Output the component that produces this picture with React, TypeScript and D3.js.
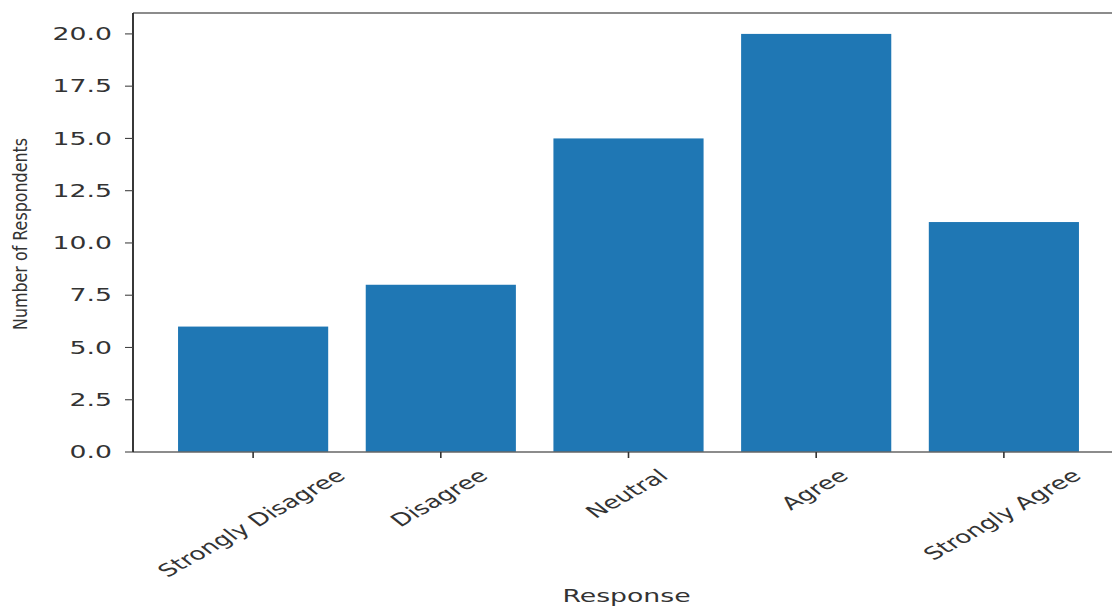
import React, { useEffect, useRef } from "react";
import * as d3 from "d3";

// Survey responses
const responses: string[] = ["Strongly Disagree", "Disagree", "Neutral", "Agree", "Strongly Agree"];
const respondentCounts: number[] = [6, 8, 15, 20, 11];
const yTickValues: number[] = [0, 2.5, 5, 7.5, 10, 12.5, 15, 17.5, 20];

const W = 1112;
const H = 607;
const FONT = "'DejaVu Sans', sans-serif";
const SX = 1.5; // horizontal stretch applied to text glyphs

export default function App() {
  const ref = useRef<SVGSVGElement | null>(null);

  useEffect(() => {
    const svg = d3.select(ref.current);
    svg.selectAll("*").remove();

    const left = 133, right = 1124, top = 13, bottom = 452;

    const x = d3
      .scaleBand<string>()
      .domain(responses)
      .range([left, right])
      .paddingInner(0.2)
      .paddingOuter(0.24);

    const y = d3.scaleLinear().domain([0, 21]).range([bottom, top]);

    svg.append("rect").attr("width", W).attr("height", H).attr("fill", "#ffffff");

    // bars
    svg
      .append("g")
      .selectAll("rect")
      .data(respondentCounts)
      .join("rect")
      .attr("x", (_, i) => x(responses[i])!)
      .attr("width", x.bandwidth())
      .attr("y", (d) => y(d))
      .attr("height", (d) => y(0) - y(d))
      .attr("fill", "#1f77b4");

    // spines
    const spines = svg.append("g").attr("fill", "none");
    spines.append("line").attr("x1", left).attr("x2", right).attr("y1", top).attr("y2", top)
      .attr("stroke", "#666").attr("stroke-width", 1.4);
    spines.append("line").attr("x1", left).attr("x2", right).attr("y1", bottom).attr("y2", bottom)
      .attr("stroke", "#666").attr("stroke-width", 1.4);
    spines.append("line").attr("x1", left).attr("x2", left).attr("y1", top).attr("y2", bottom)
      .attr("stroke", "#222").attr("stroke-width", 1.8);
    spines.append("line").attr("x1", right).attr("x2", right).attr("y1", top).attr("y2", bottom)
      .attr("stroke", "#222").attr("stroke-width", 1.8);

    // y axis ticks and labels
    const yAxis = svg.append("g");
    yTickValues.forEach((v) => {
      const ty = y(v);
      yAxis.append("line").attr("x1", left - 8).attr("x2", left).attr("y1", ty).attr("y2", ty)
        .attr("stroke", "#444").attr("stroke-width", 1.1);
      yAxis
        .append("text")
        .attr("transform", `translate(${left - 21},${ty}) scale(${SX},1)`)
        .attr("text-anchor", "end")
        .attr("dominant-baseline", "central")
        .attr("font-family", FONT)
        .attr("font-size", 17.8)
        .attr("fill", "#333")
        .text(d3.format(".1f")(v));
    });

    // x axis ticks and rotated labels
    const xAxis = svg.append("g");
    const labelTop = 465;
    responses.forEach((r) => {
      const cx = x(r)! + x.bandwidth() / 2;
      xAxis.append("line").attr("x1", cx).attr("x2", cx).attr("y1", bottom).attr("y2", bottom + 6)
        .attr("stroke", "#333").attr("stroke-width", 1.6);
      const t = xAxis
        .append("text")
        .attr("transform", `translate(${cx},${labelTop}) scale(${SX},1) rotate(-40)`)
        .attr("text-anchor", "middle")
        .attr("dominant-baseline", "central")
        .attr("font-family", FONT)
        .attr("font-size", 17.5)
        .attr("fill", "#333")
        .text(r);
      const node = t.node() as SVGTextElement;
      const box = node.getBoundingClientRect();
      const svgBox = (ref.current as SVGSVGElement).getBoundingClientRect();
      const boxTop = box.top - svgBox.top;
      const shift = labelTop - boxTop;
      t.attr("transform", `translate(${cx - 2},${labelTop + shift}) scale(${SX},1) rotate(-40)`);
    });

    // axis titles
    svg
      .append("text")
      .attr("transform", `translate(${(left + right) / 2 - 2},602) scale(${SX},1)`)
      .attr("text-anchor", "middle")
      .attr("font-family", FONT)
      .attr("font-size", 17.8)
      .attr("fill", "#333")
      .text("Response");

    svg
      .append("text")
      .attr("transform", `translate(27,234) scale(1.4,1) rotate(-90)`)
      .attr("text-anchor", "middle")
      .attr("font-family", FONT)
      .attr("font-size", 14)
      .attr("textLength", 192)
      .attr("lengthAdjust", "spacingAndGlyphs")
      .attr("fill", "#333")
      .text("Number of Respondents");
  }, []);

  return (
    <svg
      ref={ref}
      width={W}
      height={H}
      style={{ position: "absolute", left: 0, top: 0, display: "block" }}
    />
  );
}
